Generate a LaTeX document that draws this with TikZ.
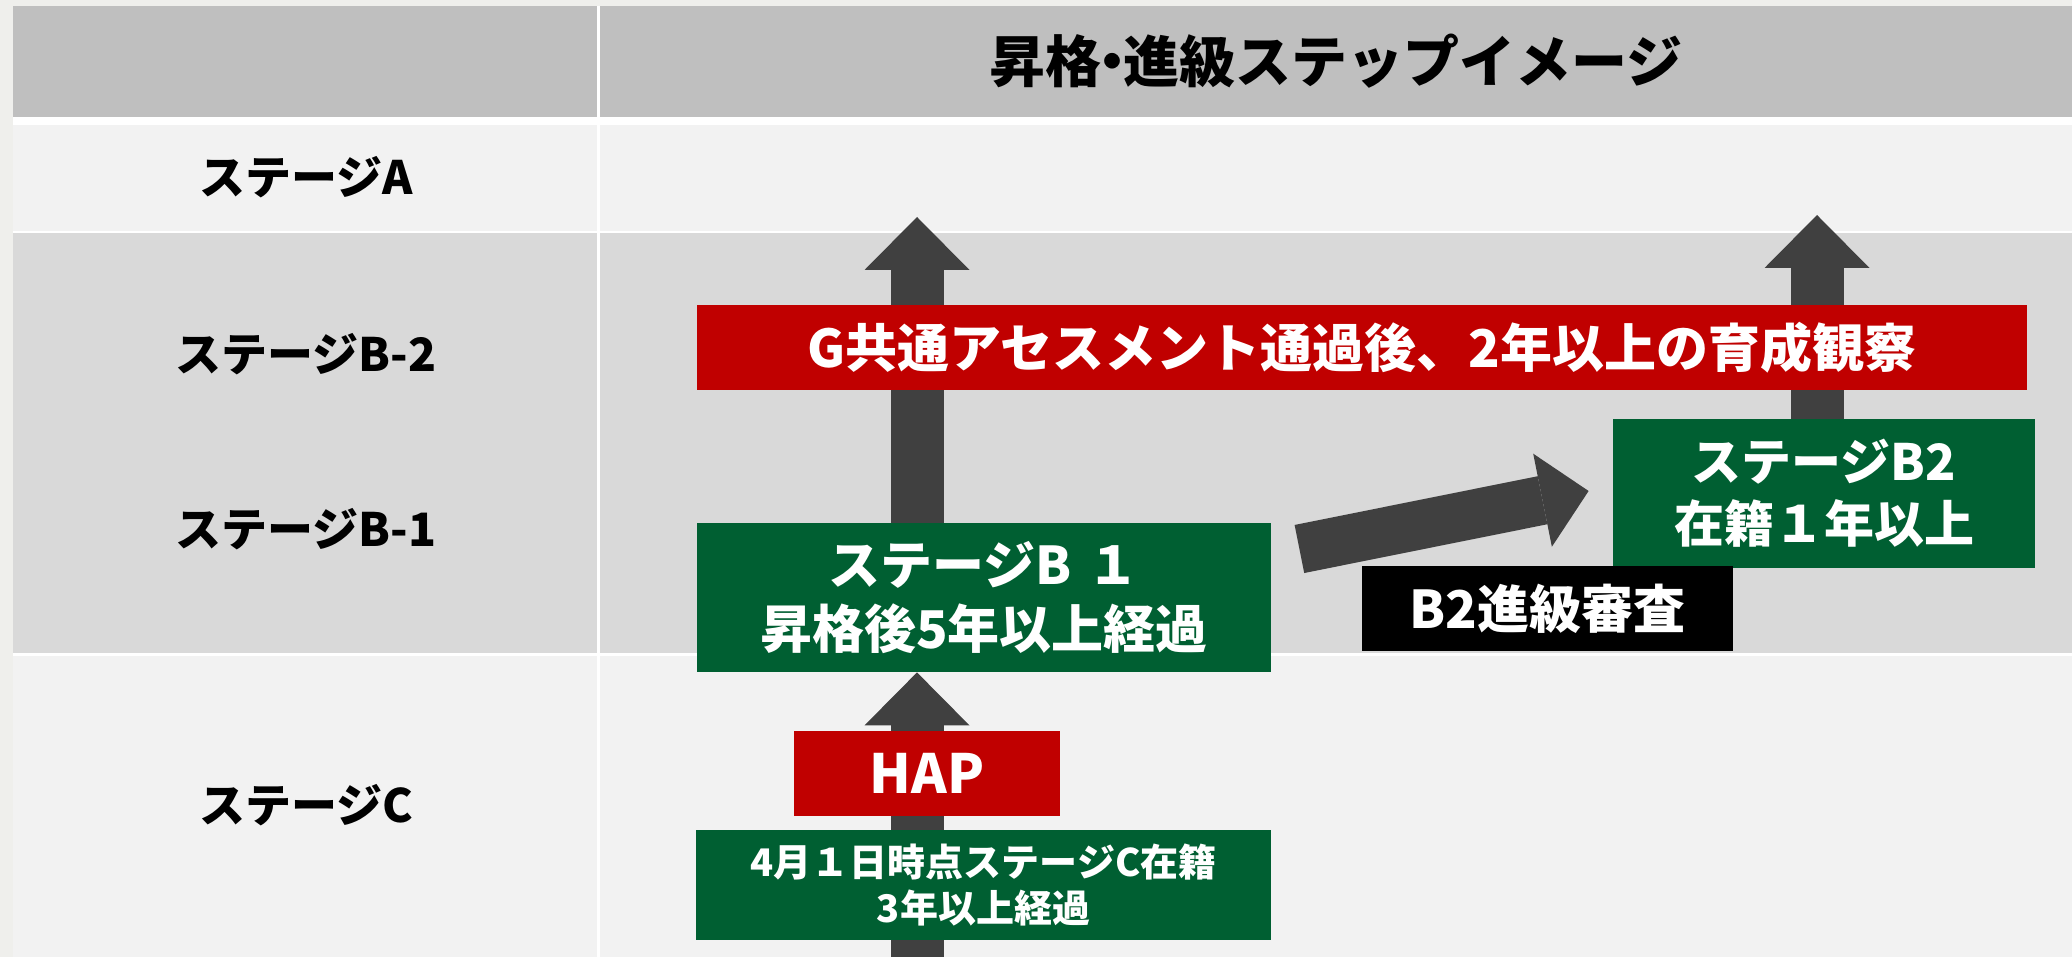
\documentclass[tikz,border=0pt]{standalone}
\usepackage{fontspec}
\setmainfont{Noto Sans CJK JP}
\usetikzlibrary{positioning,calc,arrows.meta}

\definecolor{headgray}{HTML}{BFBFBF}
\definecolor{lightrow}{HTML}{F2F2F2}
\definecolor{midrow}{HTML}{D9D9D9}
\definecolor{pagegray}{HTML}{EFEFEC}
\definecolor{stepred}{HTML}{C00000}
\definecolor{stepgreen}{HTML}{005F32}
\definecolor{arrowgray}{HTML}{404040}

\pgfdeclarelayer{bg}
\pgfdeclarelayer{arrowlayer}
\pgfsetlayers{bg,arrowlayer,main}

\begin{document}
\begin{tikzpicture}[
		x=0.5pt, y=-0.5pt
		,titletext/.style={font=\bfseries\fontsize{28}{34}\selectfont}
		,stagelabel/.style={font=\bfseries\fontsize{23}{27}\selectfont}
		,box/.style={inner sep=0pt, align=center, text=white}
		,greenbox/.style={box, fill=stepgreen, font=\bfseries\fontsize{26}{32}\selectfont}
		,redbox/.style={box, fill=stepred, font=\bfseries\fontsize{26}{32}\selectfont}
		,blackbox/.style={box, fill=black, font=\bfseries\fontsize{26}{32}\selectfont}
		,bigarrow/.style={draw=arrowgray, line width=26.5pt, -{Triangle[width=52.5pt,length=26.5pt,line width=0pt]}}
		,slimarrow/.style={line width=24.5pt, -{Triangle[width=47.5pt,length=23.5pt,line width=0pt]}}
	]
		\useasboundingbox (0,0) rectangle (2072,957);

		\begin{pgfonlayer}{bg}
			\fill[pagegray] (0,0) rectangle (2072,957);
			\fill[white] (13,6) rectangle (2072,957);
			\foreach \ya/\yb/\col in {6/117/headgray, 125/231/lightrow, 233.5/653/midrow, 656/957/lightrow}{
				\fill[\col] (13,\ya) rectangle (597,\yb);
				\fill[\col] (600,\ya) rectangle (2072,\yb);
			}
		\end{pgfonlayer}

		\node[titletext] (T) at (1336,61) {昇格\kern-0.3em・\kern-0.3em進級ステップイメージ};
		\node[stagelabel] (SA) at (306,177) {ステージA};
		\node[stagelabel] (SB2) at (306,354) {ステージB-2};
		\node[stagelabel] (SB1) at (306,529) {ステージB-1};
		\node[stagelabel] (SC) at (306,805) {ステージC};

		\node[redbox, minimum width=665pt, minimum height=42.5pt] (G) at (1362,347.5) {G共通アセスメント通過後、2年以上の育成観察};
		\node[greenbox, minimum width=287pt, minimum height=74.5pt] (B1) at (984,597.5) {ステージB\kern0.3em１\\昇格後5年以上経過};
		\node[redbox, font=\bfseries\fontsize{27}{32}\selectfont, minimum width=133pt, minimum height=42.5pt] (H) at (927,773.5) {HAP};
		\node[greenbox, font=\bfseries\fontsize{19}{23}\selectfont, minimum width=287.5pt, minimum height=55pt] (C) at (983.5,885) {4月１日時点ステージC在籍\\3年以上経過};
		\node[greenbox, font=\bfseries\fontsize{25}{31}\selectfont, minimum width=211pt, minimum height=74.5pt] (B2) at (1824,493.5) {ステージB2\\在籍１年以上};
		\node[blackbox, minimum width=185.5pt, minimum height=42.5pt] (R) at (1547.5,608.5) {B2進級審査};

		\coordinate (upL) at (917,217);
		\coordinate (upR) at (1817,215);
		\coordinate (bot) at (917,957);

		\begin{pgfonlayer}{arrowlayer}
			\draw[bigarrow] (bot) -- (bot |- B1.south);
			\draw[bigarrow] (upL |- B1.north) -- (upL);
			\draw[bigarrow] (upR |- B2.north) -- (upR);
			\draw[bigarrow, slimarrow] ($(B1.east)+(28,-48.5)$) -- ($(B2.west)+(-24,-2.5)$);
		\end{pgfonlayer}
	\end{tikzpicture}
\end{document}
